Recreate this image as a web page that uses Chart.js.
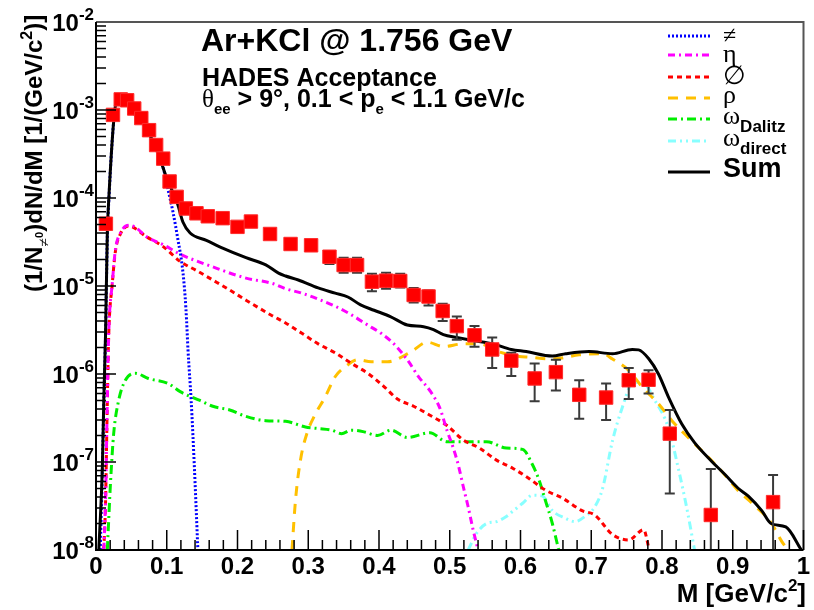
<!DOCTYPE html>
<html>
<head>
<meta charset="utf-8">
<script src="https://cdn.jsdelivr.net/npm/chart.js@4.4.1/dist/chart.umd.min.js"></script>
<style>
  html, body { margin: 0; padding: 0; background: #fff; }
  #c { display: block; }
</style>
</head>
<body>
<canvas id="c" width="814" height="610"></canvas>
<script>
// measured data points (red squares) and their error bars
const dataMass = [0.014, 0.024, 0.035, 0.044, 0.054, 0.064, 0.075, 0.085, 0.095, 0.104, 0.114, 0.127, 0.142, 0.158, 0.179, 0.200, 0.219, 0.246, 0.275, 0.304, 0.330, 0.350, 0.369, 0.390, 0.410, 0.430, 0.449, 0.470, 0.490, 0.510, 0.535, 0.560, 0.587, 0.620, 0.650, 0.683, 0.721, 0.753, 0.781, 0.811, 0.869, 0.957];
const dataYield = [5.1e-5, 8.8e-4, 1.32e-3, 1.29e-3, 1.04e-3, 8.1e-4, 5.9e-4, 4.0e-4, 2.8e-4, 1.54e-4, 1.03e-4, 7.6e-5, 6.7e-5, 6.2e-5, 5.9e-5, 4.7e-5, 5.4e-5, 3.9e-5, 3.0e-5, 2.9e-5, 2.15e-5, 1.73e-5, 1.73e-5, 1.12e-5, 1.15e-5, 1.14e-5, 7.9e-6, 7.6e-6, 5.2e-6, 3.5e-6, 2.75e-6, 1.9e-6, 1.42e-6, 8.9e-7, 1.05e-6, 5.8e-7, 5.4e-7, 8.5e-7, 8.6e-7, 2.1e-7, 2.5e-8, 3.5e-8];
const dataErrHigh = [5.4e-5, 9.1e-4, 1.36e-3, 1.33e-3, 1.07e-3, 8.4e-4, 6.1e-4, 4.15e-4, 2.9e-4, 1.6e-4, 1.08e-4, 8.0e-5, 7.1e-5, 6.6e-5, 6.3e-5, 5.0e-5, 5.8e-5, 4.2e-5, 3.25e-5, 3.15e-5, 2.45e-5, 2.1e-5, 2.1e-5, 1.38e-5, 1.41e-5, 1.38e-5, 9.5e-6, 8.9e-6, 6.3e-6, 4.5e-6, 3.5e-6, 2.6e-6, 1.74e-6, 1.32e-6, 1.45e-6, 8.5e-7, 7.8e-7, 1.17e-6, 1.1e-6, 3.9e-7, 8.3e-8, 7.1e-8];
const dataErrLow = [4.8e-5, 8.5e-4, 1.28e-3, 1.25e-3, 1.01e-3, 7.8e-4, 5.7e-4, 3.85e-4, 2.7e-4, 1.48e-4, 9.8e-5, 7.2e-5, 6.3e-5, 5.8e-5, 5.5e-5, 4.4e-5, 5.0e-5, 3.6e-5, 2.6e-5, 2.65e-5, 1.78e-5, 1.41e-5, 1.41e-5, 8.7e-6, 9.3e-6, 9.6e-6, 6.5e-6, 6.0e-6, 4.0e-6, 2.45e-6, 2.04e-6, 1.17e-6, 9.5e-7, 4.9e-7, 6.5e-7, 3.1e-7, 3.0e-7, 5.2e-7, 6.0e-7, 4.4e-8, 1e-9, 1e-9];

// model cocktail curves
const pi0Mass = [0.006, 0.009, 0.011, 0.0135, 0.016, 0.018, 0.026, 0.032, 0.042, 0.053, 0.064, 0.075, 0.087, 0.095, 0.102, 0.109, 0.116, 0.122, 0.126, 0.128, 0.130, 0.1345, 0.139, 0.144];
const pi0Yield = [1e-8, 8e-8, 4.5e-7, 2.7e-6, 3.7e-5, 9e-5, 9e-4, 1.38e-3, 1.35e-3, 9.2e-4, 7.5e-4, 5.3e-4, 3.3e-4, 2.2e-4, 1.23e-4, 6.8e-5, 3.3e-5, 1.65e-5, 7.5e-6, 4.1e-6, 1.9e-6, 5.0e-7, 8.9e-8, 1e-8];

const etaMass = [0.011, 0.0135, 0.016, 0.018, 0.023, 0.0275, 0.0345, 0.046, 0.055, 0.072, 0.095, 0.119, 0.165, 0.212, 0.249, 0.268, 0.291, 0.314, 0.338, 0.361, 0.384, 0.403, 0.421, 0.440, 0.456, 0.473, 0.486, 0.496, 0.505, 0.512, 0.519, 0.526, 0.533, 0.540];
const etaYield = [1e-8, 3.7e-8, 5e-7, 2.9e-6, 1.07e-5, 2.6e-5, 4.0e-5, 4.9e-5, 4.7e-5, 3.6e-5, 2.95e-5, 2.3e-5, 1.65e-5, 1.23e-5, 1.07e-5, 9.3e-6, 8.3e-6, 7.1e-6, 5.9e-6, 4.7e-6, 3.6e-6, 2.9e-6, 2.2e-6, 1.45e-6, 9.3e-7, 6.3e-7, 4.1e-7, 2.3e-7, 1.44e-7, 9.3e-8, 5.3e-8, 3.1e-8, 1.7e-8, 1e-8];

const deltaMass = [0.011, 0.0135, 0.016, 0.018, 0.023, 0.0275, 0.0345, 0.046, 0.072, 0.095, 0.119, 0.142, 0.165, 0.189, 0.212, 0.249, 0.268, 0.291, 0.314, 0.338, 0.361, 0.384, 0.407, 0.426, 0.449, 0.472, 0.496, 0.519, 0.542, 0.566, 0.589, 0.612, 0.635, 0.659, 0.687, 0.705, 0.730, 0.753, 0.774, 0.782];
const deltaYield = [1e-8, 3.5e-8, 4.8e-7, 2.8e-6, 1.05e-5, 2.5e-5, 3.9e-5, 4.8e-5, 3.6e-5, 2.8e-5, 1.9e-5, 1.5e-5, 1.17e-5, 9.0e-6, 6.9e-6, 4.6e-6, 3.8e-6, 2.9e-6, 2.2e-6, 1.74e-6, 1.32e-6, 1.02e-6, 7.2e-7, 5.2e-7, 4.3e-7, 3.4e-7, 2.6e-7, 1.78e-7, 1.44e-7, 1.05e-7, 8.5e-8, 6.5e-8, 4.8e-8, 3.9e-8, 2.8e-8, 2.5e-8, 1.5e-8, 1.3e-8, 1.7e-8, 1e-8];

const rhoMass = [0.277, 0.282, 0.289, 0.298, 0.310, 0.324, 0.338, 0.352, 0.370, 0.389, 0.412, 0.445, 0.468, 0.491, 0.519, 0.542, 0.570, 0.598, 0.613, 0.645, 0.683, 0.716, 0.730, 0.753, 0.772, 0.795, 0.814, 0.837, 0.861, 0.884, 0.908, 0.931, 0.955, 0.969, 0.978];
const rhoYield = [1e-8, 3.7e-8, 1.05e-7, 2.1e-7, 3.5e-7, 5.5e-7, 9.3e-7, 1.2e-6, 1.45e-6, 1.38e-6, 1.38e-6, 1.78e-6, 2.3e-6, 2.05e-6, 2.2e-6, 2.2e-6, 1.78e-6, 1.58e-6, 1.55e-6, 1.48e-6, 1.65e-6, 1.7e-6, 1.48e-6, 1.1e-6, 7.1e-7, 4.6e-7, 2.95e-7, 1.9e-7, 1.23e-7, 7.9e-8, 4.7e-8, 3.2e-8, 2.0e-8, 1.26e-8, 1e-8];

const omegaDalitzMass = [0.016, 0.0205, 0.025, 0.032, 0.0415, 0.0555, 0.074, 0.102, 0.119, 0.147, 0.165, 0.189, 0.212, 0.240, 0.268, 0.296, 0.314, 0.333, 0.347, 0.361, 0.379, 0.398, 0.417, 0.440, 0.472, 0.496, 0.519, 0.552, 0.580, 0.603, 0.617, 0.626, 0.635, 0.645, 0.654];
const omegaDalitzYield = [1e-8, 5.8e-8, 2.1e-7, 5.0e-7, 8.5e-7, 1.02e-6, 8.9e-7, 7.8e-7, 6.3e-7, 5.0e-7, 4.3e-7, 3.9e-7, 3.3e-7, 2.95e-7, 2.9e-7, 2.5e-7, 2.4e-7, 2.3e-7, 2.1e-7, 2.3e-7, 2.2e-7, 2.0e-7, 2.3e-7, 1.9e-7, 2.15e-7, 1.7e-7, 1.7e-7, 1.7e-7, 1.44e-7, 1.39e-7, 9.3e-8, 6.3e-8, 3.7e-8, 2.0e-8, 1e-8];

const omegaDirectMass = [0.526, 0.538, 0.552, 0.566, 0.580, 0.589, 0.603, 0.617, 0.631, 0.645, 0.663, 0.677, 0.691, 0.705, 0.716, 0.730, 0.744, 0.758, 0.772, 0.790, 0.809, 0.823, 0.835, 0.846];
const omegaDirectYield = [1e-8, 1.55e-8, 2.0e-8, 2.1e-8, 2.4e-8, 2.75e-8, 3.4e-8, 4.2e-8, 4.1e-8, 2.8e-8, 2.3e-8, 2.1e-8, 2.4e-8, 3.1e-8, 5.0e-8, 1.74e-7, 4.2e-7, 7.8e-7, 8.1e-7, 5.0e-7, 2.45e-7, 8.5e-8, 3.0e-8, 1e-8];

const sumMass = [0.004, 0.009, 0.011, 0.0135, 0.016, 0.018, 0.026, 0.032, 0.042, 0.053, 0.064, 0.075, 0.087, 0.101, 0.115, 0.123, 0.133, 0.156, 0.179, 0.212, 0.240, 0.258, 0.268, 0.286, 0.314, 0.338, 0.356, 0.374, 0.393, 0.416, 0.440, 0.463, 0.477, 0.491, 0.510, 0.533, 0.561, 0.587, 0.608, 0.645, 0.664, 0.697, 0.730, 0.758, 0.767, 0.781, 0.795, 0.809, 0.828, 0.846, 0.870, 0.889, 0.908, 0.922, 0.941, 0.954, 0.975, 0.997];
const sumYield = [1e-8, 8.9e-8, 5.0e-7, 2.9e-6, 4.0e-5, 9.5e-5, 9.1e-4, 1.4e-3, 1.37e-3, 9.3e-4, 7.6e-4, 5.4e-4, 3.3e-4, 1.6e-4, 8.7e-5, 5.3e-5, 4.0e-5, 3.3e-5, 2.7e-5, 2.1e-5, 1.74e-5, 1.4e-5, 1.3e-5, 1.17e-5, 9.5e-6, 8.3e-6, 7.5e-6, 6.1e-6, 5.3e-6, 4.5e-6, 3.6e-6, 3.45e-6, 3.2e-6, 2.8e-6, 2.6e-6, 2.4e-6, 2.2e-6, 1.9e-6, 1.8e-6, 1.6e-6, 1.7e-6, 1.8e-6, 1.7e-6, 1.9e-6, 1.88e-6, 1.5e-6, 1.0e-6, 5.5e-7, 2.7e-7, 1.66e-7, 1.02e-7, 7.2e-8, 5.0e-8, 4.1e-8, 2.8e-8, 2.0e-8, 1.83e-8, 1e-8];

// axis ticks
const xTickValues = [0, 0.1, 0.2, 0.3, 0.4, 0.5, 0.6, 0.7, 0.8, 0.9, 1];
const xTickLabels = ['0', '0.1', '0.2', '0.3', '0.4', '0.5', '0.6', '0.7', '0.8', '0.9', '1'];
const yTickExponents = [-2, -3, -4, -5, -6, -7, -8];

const SANS = '"Liberation Sans", Arial, Helvetica, sans-serif';
const SERIF = '"Liberation Serif", "DejaVu Serif", "Times New Roman", serif';

function pts(xs, ys) {
  return xs.map((x, i) => ({ x: x, y: ys[i] }));
}

function curve(label, xs, ys, color, dash) {
  return {
    label: label,
    data: pts(xs, ys),
    borderColor: color,
    borderWidth: 3,
    borderDash: dash,
    pointRadius: 0,
    fill: false,
    cubicInterpolationMode: 'monotone'
  };
}

// text with sub/superscripts: parts = [text, font, dy]
function drawRich(ctx, parts, x, y, align) {
  let w = 0;
  parts.forEach(p => { ctx.font = p[1]; w += ctx.measureText(p[0]).width; });
  let cx = align === 'right' ? x - w : (align === 'center' ? x - w / 2 : x);
  parts.forEach(p => {
    ctx.font = p[1];
    ctx.fillText(p[0], cx, y + (p[2] || 0));
    cx += ctx.measureText(p[0]).width;
  });
}

const legendItems = [
  { parts: [['\u2260', '24px ' + SERIF, 0]], y: 36, color: '#0000ff', dash: [2, 2], base: 43 },
  { parts: [['\u03b7', '26px ' + SERIF, 0]], y: 55, color: '#ff00ff', dash: [7, 4, 2, 4], base: 62 },
  { parts: [['\u2205', '26px ' + SERIF, 0]], y: 77, color: '#ff0000', dash: [5, 4], base: 84 },
  { parts: [['\u03c1', '26px ' + SERIF, 0]], y: 98, color: '#ffc000', dash: [10, 8], base: 103 },
  { parts: [['\u03c9', '26px ' + SERIF, 0], ['Dalitz', 'bold 17px ' + SANS, 8]], y: 119, color: '#00ee00', dash: [9, 4, 2, 4], base: 124 },
  { parts: [['\u03c9', '26px ' + SERIF, 0], ['direct', 'bold 17px ' + SANS, 8]], y: 141, color: '#88ffff', dash: [8, 4, 2, 4, 2, 4], base: 146 },
  { parts: [['Sum', 'bold 27px ' + SANS, 0]], y: 172, color: '#000000', dash: [], base: 177 }
];

const errorBars = {
  id: 'errorBars',
  beforeDatasetDraw(chart, args) {
    if (args.index !== 0) return;
    const ctx = chart.ctx, xs = chart.scales.x, ys = chart.scales.y, a = chart.chartArea;
    ctx.save();
    ctx.beginPath();
    ctx.rect(a.left, a.top, a.right - a.left, a.bottom - a.top);
    ctx.clip();
    ctx.strokeStyle = '#3a3a3a';
    ctx.lineWidth = 2;
    dataMass.forEach((m, i) => {
      const px = xs.getPixelForValue(m);
      const hi = ys.getPixelForValue(dataErrHigh[i]);
      const lo = ys.getPixelForValue(dataErrLow[i]);
      ctx.beginPath();
      ctx.moveTo(px, hi); ctx.lineTo(px, lo);
      ctx.moveTo(px - 5, hi); ctx.lineTo(px + 5, hi);
      ctx.moveTo(px - 5, lo); ctx.lineTo(px + 5, lo);
      ctx.stroke();
    });
    ctx.restore();
  }
};

const rootAxes = {
  id: 'rootAxes',
  afterDraw(chart) {
    const ctx = chart.ctx, xs = chart.scales.x, ys = chart.scales.y, a = chart.chartArea;
    ctx.save();
    // frame
    ctx.strokeStyle = '#555';
    ctx.lineWidth = 2;
    ctx.beginPath();
    ctx.moveTo(a.left, a.top); ctx.lineTo(a.right, a.top); ctx.lineTo(a.right, a.bottom);
    ctx.stroke();
    ctx.strokeStyle = '#000';
    ctx.beginPath();
    ctx.moveTo(a.left, a.top); ctx.lineTo(a.left, a.bottom); ctx.lineTo(a.right, a.bottom);
    ctx.stroke();

    // x ticks (inward)
    ctx.lineWidth = 1.5;
    ctx.beginPath();
    for (let i = 0; i <= 50; i++) {
      const px = xs.getPixelForValue(i * 0.02);
      const len = i % 5 === 0 ? 20 : 10;
      ctx.moveTo(px, a.bottom); ctx.lineTo(px, a.bottom - len);
    }
    // y ticks (inward)
    for (let e = -8; e <= -3; e++) {
      for (let m = 1; m <= 9; m++) {
        const py = ys.getPixelForValue(m * Math.pow(10, e));
        const len = m === 1 ? 20 : 10;
        ctx.moveTo(a.left, py); ctx.lineTo(a.left + len, py);
      }
    }
    ctx.stroke();

    ctx.fillStyle = '#000';
    ctx.textBaseline = 'alphabetic';
    ctx.textAlign = 'left';
    // x labels
    xTickValues.forEach((v, i) => {
      const px = Math.min(xs.getPixelForValue(v), 805);
      drawRich(ctx, [[xTickLabels[i], 'bold 24px ' + SANS, 0]], px, 574, 'center');
    });
    // y labels
    yTickExponents.forEach(e => {
      const py = ys.getPixelForValue(Math.pow(10, e));
      drawRich(ctx, [['10', 'bold 24px ' + SANS, 0], ['-' + Math.abs(e), 'bold 17px ' + SANS, -11]], a.left - 2, py + 9, 'right');
    });
    // x title
    drawRich(ctx, [['M [GeV/c', 'bold 26px ' + SANS, 0], ['2', 'bold 17px ' + SANS, -11], [']', 'bold 26px ' + SANS, 0]], 806, 602, 'right');
    // y title
    ctx.save();
    ctx.translate(42, 292);
    ctx.rotate(-Math.PI / 2);
    drawRich(ctx, [
      ['(1/N', 'bold 24px ' + SANS, 0],
      ['\u2260', '16px ' + SERIF, 7],
      ['0', 'bold 11px ' + SANS, 1],
      [')dN/dM [1/(GeV/c', 'bold 24px ' + SANS, 0],
      ['2', 'bold 16px ' + SANS, -10],
      [')]', 'bold 24px ' + SANS, 0]
    ], 0, 0, 'left');
    ctx.restore();

    // annotations
    drawRich(ctx, [['Ar+KCl @ 1.756 GeV', 'bold 32px ' + SANS, 0]], 201, 51, 'left');
    drawRich(ctx, [['HADES Acceptance', 'bold 25px ' + SANS, 0]], 202, 86, 'left');
    drawRich(ctx, [
      ['\u03b8', '25px ' + SERIF, 0],
      ['ee', 'bold 15px ' + SANS, 7],
      [' > 9\u00b0, 0.1 < p', 'bold 25px ' + SANS, 0],
      ['e', 'bold 15px ' + SANS, 7],
      [' < 1.1 GeV/c', 'bold 25px ' + SANS, 0]
    ], 202, 107, 'left');

    // legend
    legendItems.forEach(it => {
      ctx.strokeStyle = it.color;
      ctx.lineWidth = 3;
      ctx.setLineDash(it.dash);
      ctx.beginPath();
      ctx.moveTo(668, it.y); ctx.lineTo(710, it.y);
      ctx.stroke();
      ctx.setLineDash([]);
      drawRich(ctx, it.parts, 723, it.base, 'left');
    });
    ctx.restore();
  }
};

const ctx = document.getElementById('c').getContext('2d');
new Chart(ctx, {
  type: 'line',
  data: {
    datasets: [
      {
        label: 'data',
        data: pts(dataMass, dataYield),
        showLine: false,
        pointStyle: 'rect',
        pointRadius: 9.5,
        pointBackgroundColor: '#ff0000',
        pointBorderColor: '#ff2a2a',
        pointBorderWidth: 1
      },
      curve('Sum', sumMass, sumYield, '#000000', []),
      curve('pi0', pi0Mass, pi0Yield, '#0000ff', [2, 2]),
      curve('eta', etaMass, etaYield, '#ff00ff', [7, 4, 2, 4]),
      curve('Delta', deltaMass, deltaYield, '#ff0000', [5, 4]),
      curve('rho', rhoMass, rhoYield, '#ffc000', [10, 8]),
      curve('omega Dalitz', omegaDalitzMass, omegaDalitzYield, '#00ee00', [9, 4, 2, 4]),
      curve('omega direct', omegaDirectMass, omegaDirectYield, '#88ffff', [8, 4, 2, 4, 2, 4])
    ]
  },
  options: {
    responsive: false,
    animation: false,
    devicePixelRatio: 1,
    layout: { padding: { left: 96, right: 3, top: 22, bottom: 60 } },
    plugins: { legend: { display: false }, tooltip: { enabled: false } },
    scales: {
      x: { type: 'linear', min: 0, max: 1, display: false },
      y: { type: 'logarithmic', min: 1e-8, max: 1e-2, display: false }
    }
  },
  plugins: [errorBars, rootAxes]
});
</script>
</body>
</html>
